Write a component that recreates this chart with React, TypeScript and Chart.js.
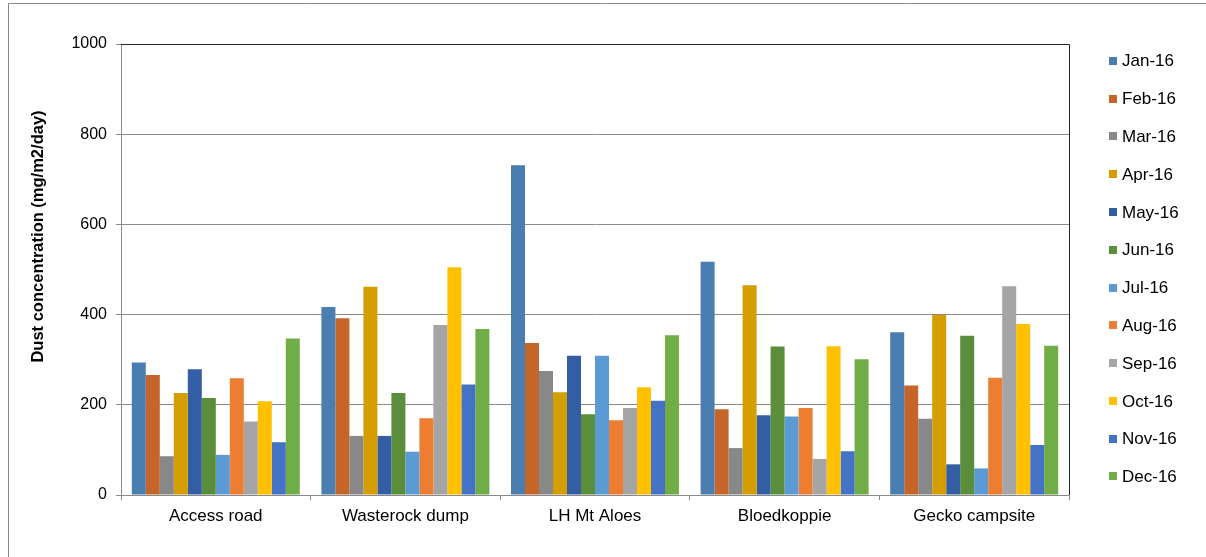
import React, { useEffect, useRef } from "react";
import { Chart, registerables } from "chart.js";

Chart.register(...registerables);

const categories = ["Access road", "Wasterock dump", "LH Mt Aloes", "Bloedkoppie", "Gecko campsite"];
const months = ["Jan-16", "Feb-16", "Mar-16", "Apr-16", "May-16", "Jun-16", "Jul-16", "Aug-16", "Sep-16", "Oct-16", "Nov-16", "Dec-16"];
const colors = ["#4A7EB0", "#C5652A", "#888888", "#D49E00", "#345EA3", "#5A8E3A", "#5B9BD5", "#ED7D31", "#A5A5A5", "#FFC000", "#4472C4", "#70AD47"];

// values per month across the five sites
const jan16 = [294, 417, 731, 517, 361];
const feb16 = [266, 392, 337, 190, 243];
const mar16 = [86, 131, 275, 104, 169];
const apr16 = [226, 462, 228, 465, 399];
const may16 = [279, 131, 309, 177, 68];
const jun16 = [215, 226, 179, 329, 353];
const jul16 = [89, 96, 309, 174, 59];
const aug16 = [259, 170, 166, 193, 260];
const sep16 = [163, 377, 193, 80, 463];
const oct16 = [208, 505, 239, 330, 379];
const nov16 = [117, 245, 209, 97, 111];
const dec16 = [347, 368, 354, 301, 331];

const seriesValues = [jan16, feb16, mar16, apr16, may16, jun16, jul16, aug16, sep16, oct16, nov16, dec16];
const yTicks = [0, 200, 400, 600, 800, 1000];
const yTitle = "Dust concentration (mg/m2/day)";

const FONT = "'Liberation Sans', Arial, sans-serif";

const framePlugin = {
  id: "framePlugin",
  beforeDraw(chart: any) {
    const ctx = chart.ctx;
    ctx.save();
    ctx.fillStyle = "#ffffff";
    ctx.fillRect(0, 0, chart.width, chart.height);
    ctx.strokeStyle = "#8a8a8a";
    ctx.lineWidth = 1;
    ctx.beginPath();
    ctx.moveTo(8.5, chart.height);
    ctx.lineTo(8.5, 3.5);
    ctx.lineTo(chart.width, 3.5);
    ctx.stroke();
    ctx.restore();
  },
  afterDraw(chart: any) {
    const ctx = chart.ctx;
    const a = chart.chartArea;
    ctx.save();
    ctx.strokeStyle = "#222222";
    ctx.lineWidth = 1;
    ctx.beginPath();
    ctx.moveTo(a.left, Math.round(a.top) + 0.5);
    ctx.lineTo(Math.round(a.right) + 0.5, Math.round(a.top) + 0.5);
    ctx.lineTo(Math.round(a.right) + 0.5, a.bottom);
    ctx.stroke();
    // y axis title
    ctx.save();
    ctx.translate(38, 236.5);
    ctx.rotate(-Math.PI / 2);
    ctx.font = `bold 16.5px ${FONT}`;
    ctx.fillStyle = "#000";
    ctx.textAlign = "center";
    ctx.textBaseline = "middle";
    ctx.fillText(yTitle, 0, 0);
    ctx.restore();
    // legend
    const datasets = chart.data.datasets;
    ctx.font = `17px ${FONT}`;
    ctx.textBaseline = "middle";
    ctx.textAlign = "left";
    datasets.forEach((ds: any, i: number) => {
      const cy = 60.7 + i * 37.8;
      ctx.fillStyle = ds.backgroundColor;
      ctx.fillRect(1109, Math.round(cy - 4), 8, 8);
      ctx.fillStyle = "#000000";
      ctx.fillText(ds.label, 1122, cy + 1);
    });
    ctx.restore();
  },
};

export default function App() {
  const ref = useRef<HTMLCanvasElement | null>(null);
  useEffect(() => {
    if (!ref.current) return;
    const chart = new Chart(ref.current, {
      type: "bar",
      data: {
        labels: categories,
        datasets: months.map((m, i) => ({
          label: m,
          data: seriesValues[i],
          backgroundColor: colors[i],
          borderWidth: 0,
          categoryPercentage: 0.886,
          barPercentage: 1,
        })),
      },
      options: {
        responsive: false,
        animation: false,
        layout: { padding: { left: 0, right: 137, top: 44, bottom: 0 } },
        plugins: { legend: { display: false }, tooltip: { enabled: false } },
        scales: {
          x: {
            grid: {
              offset: true,
              drawOnChartArea: false,
              color: "#8a8a8a",
              tickLength: 5,
            },
            border: { color: "#8a8a8a" },
            ticks: { color: "#000", font: { family: FONT, size: 17 }, padding: 6, maxRotation: 0 },
            afterFit(scale: any) {
              scale.height = 62;
            },
          },
          y: {
            min: 0,
            max: 1000,
            afterBuildTicks(scale: any) {
              scale.ticks = yTicks.map((v) => ({ value: v }));
            },
            grid: { color: "#8a8a8a", tickLength: 5 },
            border: { color: "#8a8a8a" },
            ticks: {
              color: "#000",
              font: { family: FONT, size: 16 },
              padding: 9,
              callback: (v: any) => String(v),
            },
            afterFit(scale: any) {
              scale.width = 121;
            },
          },
        },
      },
      plugins: [framePlugin],
    });
    return () => chart.destroy();
  }, []);
  return (
    <div style={{ position: "absolute", left: 0, top: 0, width: 1206, height: 557 }}>
      <canvas ref={ref} width={1206} height={557} aria-label={yTitle} />
    </div>
  );
}
